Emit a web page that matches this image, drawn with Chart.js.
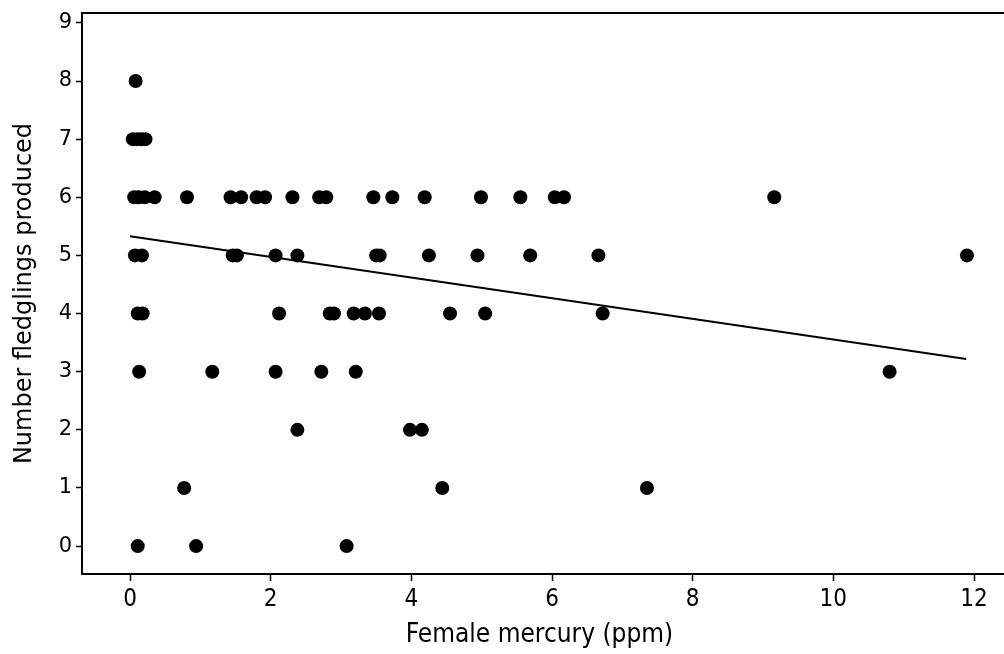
<!DOCTYPE html>
<html>
<head>
<meta charset="utf-8">
<script src="https://cdn.jsdelivr.net/npm/chart.js@4/dist/chart.umd.min.js"></script>
<style>
  html, body { margin: 0; padding: 0; background: #fff; }
  #wrap { width: 1004px; height: 654px; position: relative; }
</style>
</head>
<body>
<div id="wrap"><canvas id="c" width="1004" height="654"></canvas></div>
<script>
// Female mercury (ppm) and number of fledglings produced, one pair per nest
const mercury = [
  0.08,
  0.04, 0.10, 0.16, 0.22,
  0.06, 0.12, 0.21, 0.35, 0.81, 1.43, 1.58, 1.80, 1.92, 2.31, 2.69, 2.79, 3.46, 3.73, 4.19, 4.99, 5.55, 6.04, 6.17, 9.16,
  0.07, 0.17, 1.46, 1.52, 2.07, 2.38, 3.50, 3.55, 4.25, 4.94, 5.69, 6.66, 11.90,
  0.11, 0.18, 2.12, 2.84, 2.90, 3.18, 3.34, 3.54, 4.55, 5.05, 6.72,
  0.13, 1.17, 2.07, 2.72, 3.21, 10.80,
  2.38, 3.98, 4.15,
  0.77, 4.44, 7.35,
  0.11, 0.94, 3.08
];
const fledglings = [
  8,
  7, 7, 7, 7,
  6, 6, 6, 6, 6, 6, 6, 6, 6, 6, 6, 6, 6, 6, 6, 6, 6, 6, 6, 6,
  5, 5, 5, 5, 5, 5, 5, 5, 5, 5, 5, 5, 5,
  4, 4, 4, 4, 4, 4, 4, 4, 4, 4, 4,
  3, 3, 3, 3, 3, 3,
  2, 2, 2,
  1, 1, 1,
  0, 0, 0
];
// Fitted regression line endpoints
const trendX = [0.0, 11.89];
const trendY = [5.33, 3.22];
// Tick labels
const xTicks = [0, 2, 4, 6, 8, 10, 12];
const yTicks = [0, 1, 2, 3, 4, 5, 6, 7, 8, 9];

const points = mercury.map((m, i) => ({ x: m, y: fledglings[i] }));
const trend = trendX.map((t, i) => ({ x: t, y: trendY[i] }));

const frameLines = {
  id: 'frameLines',
  afterDraw(chart) {
    const { ctx, chartArea } = chart;
    const yTop = Math.round(chartArea.top - 1) + 1;
    const yBot = Math.round(chartArea.bottom - 1) + 1;
    ctx.save();
    ctx.strokeStyle = '#000';
    ctx.lineWidth = 2;
    ctx.beginPath();
    ctx.moveTo(chartArea.left - 1, yTop);
    ctx.lineTo(chart.width, yTop);
    ctx.moveTo(chartArea.right - 2, yBot);
    ctx.lineTo(chart.width, yBot);
    ctx.stroke();
    ctx.restore();
  }
};

new Chart(document.getElementById('c'), {
  type: 'scatter',
  data: {
    datasets: [
      {
        type: 'line',
        data: trend,
        borderColor: '#000',
        borderWidth: 2,
        pointRadius: 0,
        fill: false,
        order: 0
      },
      {
        data: points,
        backgroundColor: '#000',
        borderWidth: 0,
        pointRadius: 7,
        pointHoverRadius: 7,
        order: 1
      }
    ]
  },
  options: {
    responsive: false,
    animation: false,
    events: [],
    layout: { padding: { top: 13, right: 0, left: 0, bottom: 0 } },
    plugins: { legend: { display: false }, tooltip: { enabled: false } },
    scales: {
      x: {
        type: 'linear',
        min: -0.6825,
        max: 12.327,
        afterBuildTicks: (s) => { s.ticks = xTicks.map(v => ({ value: v })); },
        afterFit: (s) => { s.height = 80; s.paddingLeft = 0; s.paddingRight = 0; },
        border: { display: true, color: '#000', width: 2 },
        grid: { drawOnChartArea: false, drawTicks: true, tickLength: 7, color: '#000', tickWidth: 1.5 },
        ticks: {
          color: '#000',
          padding: 4,
          maxRotation: 0,
          font: { family: '"DejaVu Sans Condensed", "Liberation Sans Narrow", "DejaVu Sans", sans-serif', size: 24 }
        },
        title: {
          display: true,
          text: 'Female mercury (ppm)',
          color: '#000',
          padding: { top: 0, bottom: 3 },
          font: { family: '"DejaVu Sans Condensed", "DejaVu Sans", sans-serif', size: 26 }
        }
      },
      y: {
        type: 'linear',
        min: -0.48,
        max: 9.17,
        afterBuildTicks: (s) => { s.ticks = yTicks.map(v => ({ value: v })); },
        afterFit: (s) => { s.width = 82; s.paddingTop = 0; s.paddingBottom = 0; },
        border: { display: true, color: '#000', width: 2 },
        grid: { drawOnChartArea: false, drawTicks: true, tickLength: 6, color: '#000', tickWidth: 1.5 },
        ticks: {
          color: '#000',
          padding: 4,
          font: { family: '"DejaVu Sans", sans-serif', size: 21 }
        },
        title: {
          display: true,
          text: 'Number fledglings produced',
          color: '#000',
          padding: { top: 10, bottom: 0 },
          font: { family: '"DejaVu Sans", sans-serif', size: 24 }
        }
      }
    }
  },
  plugins: [frameLines]
});
</script>
</body>
</html>
